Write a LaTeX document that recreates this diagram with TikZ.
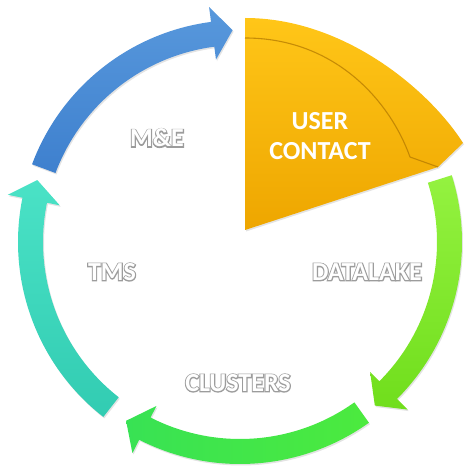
\documentclass[tikz,border=0pt]{standalone}
\usepackage{fontspec}
\setmainfont{Carlito}
\newfontfamily\olfont{Carlito}[RawFeature={embolden=8}]
\usetikzlibrary{calc,shadows}
\definecolor{blueA}{RGB}{88,152,220}
\definecolor{blueB}{RGB}{62,128,206}
\definecolor{tealA}{RGB}{74,226,198}
\definecolor{tealB}{RGB}{50,204,178}
\definecolor{grnA}{RGB}{76,234,62}
\definecolor{grnB}{RGB}{56,226,84}
\definecolor{limeA}{RGB}{148,242,64}
\definecolor{limeB}{RGB}{112,222,28}
\definecolor{orA}{RGB}{255,198,24}
\definecolor{orB}{RGB}{238,166,0}
\definecolor{orLine}{RGB}{176,118,0}
\definecolor{outl}{RGB}{156,156,156}
\newcommand{\ringarrow}[3]{%
  \path[#1,shift={(C)}] ({#2}:222) arc[start angle={#2},end angle={#3+5.5},radius=222]
    -- ({#3+5.5}:237) -- ({#3}:212) -- ({#3+5.5}:184) -- ({#3+5.5}:197)
    arc[start angle={#3+5.5},end angle={#2},radius=197] -- cycle;}
\newcommand{\outlined}[1]{\rlap{\olfont\bfseries\color{outl}#1}#1}
\begin{document}
\begin{tikzpicture}[x=1pt,y=1pt,
  ringlabel/.style={font=\bfseries\fontsize{26}{30}\selectfont, text=white},
  arrowshadow/.style={drop shadow={opacity=0.22,shadow xshift=1pt,shadow yshift=-1.5pt}}]
\useasboundingbox (0,0) rectangle (465,466);
\coordinate (C) at (240,224);
\coordinate (A) at (245,236);
\coordinate (T) at (245,448);
\coordinate (B) at (463,323);
\coordinate (Tp) at (438,299);
% ring arrows
\ringarrow{arrowshadow,top color=limeA,bottom color=limeB}{17.5}{-50.5}
\ringarrow{arrowshadow,left color=grnB,right color=grnA}{-54.5}{-122.5}
\ringarrow{arrowshadow,top color=tealA,bottom color=tealB}{232}{163}
\ringarrow{arrowshadow,shading angle=45,top color=blueA,bottom color=blueB}{159.5}{92}
% user contact sector
\path[arrowshadow,top color=orA,bottom color=orB]
  (A) -- (T) .. controls (345,448) and (430,375) .. (B) -- (Tp) -- cycle;
\draw[orLine,opacity=0.7,line width=1.1pt]
  (245,428) .. controls (335,428) and (390,365) .. (410,309) -- (Tp);
% labels
\node[ringlabel,align=center] (uc) at (320,330) {USER\\CONTACT};
\node[ringlabel] (me) at (157,328) {\outlined{M\&E}};
\node[ringlabel] (tms) at (112,194) {\outlined{TMS}};
\node[ringlabel] (dl) at (367,194) {\outlined{DATALAKE}};
\node[ringlabel] (cl) at (238,83) {\outlined{CLUSTERS}};
\end{tikzpicture}
\end{document}
